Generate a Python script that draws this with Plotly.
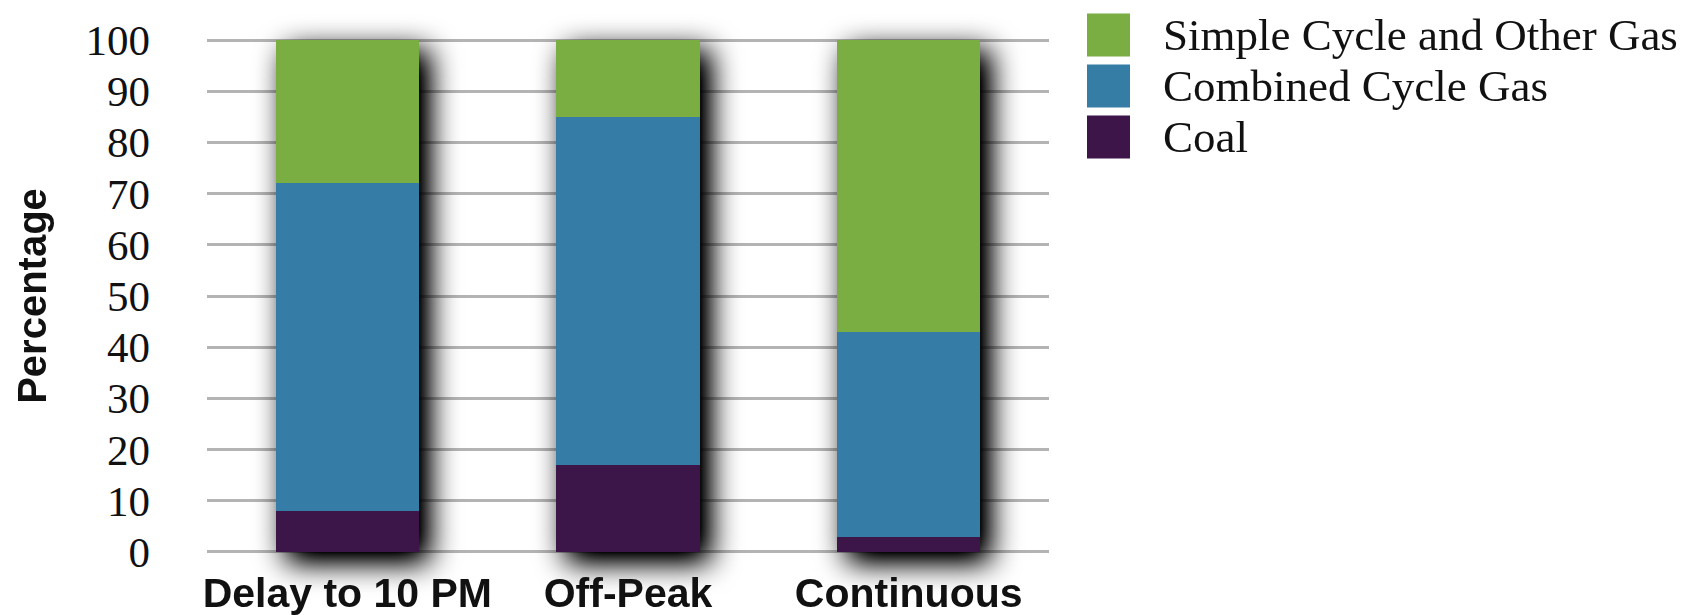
import plotly.graph_objects as go

# Share of generation by resource for each charging scenario (percent)
categories = ["Delay to 10 PM", "Off-Peak", "Continuous"]
coal = [8, 17, 3]
combined_cycle_gas = [64, 68, 40]
simple_cycle_gas = [28, 15, 57]

series_names = ["Coal", "Combined Cycle Gas", "Simple Cycle and Other Gas"]
series_colors = ["#3d1548", "#367da6", "#7aae43"]
y_ticks = [0, 10, 20, 30, 40, 50, 60, 70, 80, 90, 100]

W, H = 1696, 615
# plot area: y=0 at 551.6 px, y=100 at 40 px; small pad keeps edge gridlines visible
pad = 0.4
px_per_unit = 5.116
L, R = 207, 647
T = 40 - pad * px_per_unit
B = H - (551.6 + pad * px_per_unit)

fig = go.Figure()
for name, vals, color in zip(series_names,
                             [coal, combined_cycle_gas, simple_cycle_gas],
                             series_colors):
    fig.add_trace(go.Bar(
        x=categories, y=vals, name=name,
        marker=dict(color=color, line=dict(width=0)),
        cliponaxis=False, showlegend=False,
        hovertemplate="%{x}<br>" + name + ": %{y}%<extra></extra>",
    ))

# Legend drawn as large swatches with serif labels, top entry first
plot_w = W - L - R
plot_h = H - T - B


def px_to_paper(px, py):
    return (px - L) / plot_w, (H - B - py) / plot_h


shapes, annotations = [], []
row_centers = [35, 86, 137]
sw = 43
for i, idx in enumerate([2, 1, 0]):
    cy = row_centers[i]
    x0, y0 = px_to_paper(1087, cy + sw / 2)
    x1, y1 = px_to_paper(1087 + sw, cy - sw / 2)
    shapes.append(dict(type="rect", xref="paper", yref="paper",
                       x0=x0, x1=x1, y0=y0, y1=y1,
                       fillcolor=series_colors[idx], line=dict(width=0)))
    tx, ty = px_to_paper(1161, cy)
    annotations.append(dict(xref="paper", yref="paper", x=tx, y=ty,
                            xanchor="left", yanchor="middle", showarrow=False,
                            text=series_names[idx],
                            font=dict(family="Liberation Serif", size=45,
                                      color="#111")))

fig.update_layout(
    width=W, height=H,
    margin=dict(l=L, r=R, t=T, b=B, autoexpand=False),
    paper_bgcolor="white", plot_bgcolor="white",
    barmode="stack", bargap=0.49,
    shapes=shapes, annotations=annotations,
    showlegend=False,
    xaxis=dict(
        range=[-0.5, 2.5], showgrid=False, zeroline=False, showline=False,
        ticks="", ticklabelstandoff=11,
        tickfont=dict(family="Liberation Sans", size=41, color="#111",
                      weight="bold"),
    ),
    yaxis=dict(
        range=[-pad, 100 + pad], tickvals=y_ticks, showgrid=True,
        gridcolor="#b4b4b4", gridwidth=3, zeroline=False, showline=False,
        ticks="", ticklabelstandoff=56,
        tickfont=dict(family="Liberation Serif", size=43, color="#111"),
        title=dict(text="Percentage", standoff=26,
                   font=dict(family="Liberation Sans", size=40, color="#111",
                             weight="bold")),
    ),
)

# Soft drop shadow cast by the stacked columns; the bar layer is unclipped so
# the blur can spill below the baseline
shadow_js = """
var gd = document.getElementById('{plot_id}');
function addShadow(){
  var svg = gd.querySelector('svg.main-svg');
  if(!svg) return;
  var ns = 'http://www.w3.org/2000/svg';
  if(!document.getElementById('barshadow')){
    var defs = svg.querySelector('defs');
    if(!defs){ defs = document.createElementNS(ns, 'defs'); svg.insertBefore(defs, svg.firstChild); }
    var f = document.createElementNS(ns, 'filter');
    f.setAttribute('id', 'barshadow');
    f.setAttribute('filterUnits', 'userSpaceOnUse');
    f.setAttribute('x', '-300'); f.setAttribute('y', '-300');
    f.setAttribute('width', '2400'); f.setAttribute('height', '1400');
    var blur = document.createElementNS(ns, 'feGaussianBlur');
    blur.setAttribute('in', 'SourceAlpha');
    blur.setAttribute('stdDeviation', '15');
    blur.setAttribute('result', 'blur');
    var off = document.createElementNS(ns, 'feOffset');
    off.setAttribute('in', 'blur');
    off.setAttribute('dx', '10'); off.setAttribute('dy', '10');
    off.setAttribute('result', 'off');
    var ct = document.createElementNS(ns, 'feComponentTransfer');
    ct.setAttribute('in', 'off');
    ct.setAttribute('result', 'shadow');
    var fa = document.createElementNS(ns, 'feFuncA');
    fa.setAttribute('type', 'linear');
    fa.setAttribute('slope', '1.3');
    ct.appendChild(fa);
    var merge = document.createElementNS(ns, 'feMerge');
    var m1 = document.createElementNS(ns, 'feMergeNode'); m1.setAttribute('in', 'shadow');
    var m2 = document.createElementNS(ns, 'feMergeNode'); m2.setAttribute('in', 'SourceGraphic');
    merge.appendChild(m1); merge.appendChild(m2);
    f.appendChild(blur); f.appendChild(off); f.appendChild(ct); f.appendChild(merge);
    defs.appendChild(f);
  }
  gd.querySelectorAll('.barlayer').forEach(function(g){
    g.setAttribute('filter', 'url(#barshadow)');
    var p = g;
    while (p && p !== svg) {
      if (p.getAttribute && p.getAttribute('clip-path')) { p.removeAttribute('clip-path'); }
      if (p.style) { p.style.clipPath = 'none'; }
      p = p.parentNode;
    }
  });
}
addShadow();
if (gd.on) { gd.on('plotly_afterplot', addShadow); }
setTimeout(addShadow, 50);
"""

fig.write_html("out.html", post_script=shadow_js)
